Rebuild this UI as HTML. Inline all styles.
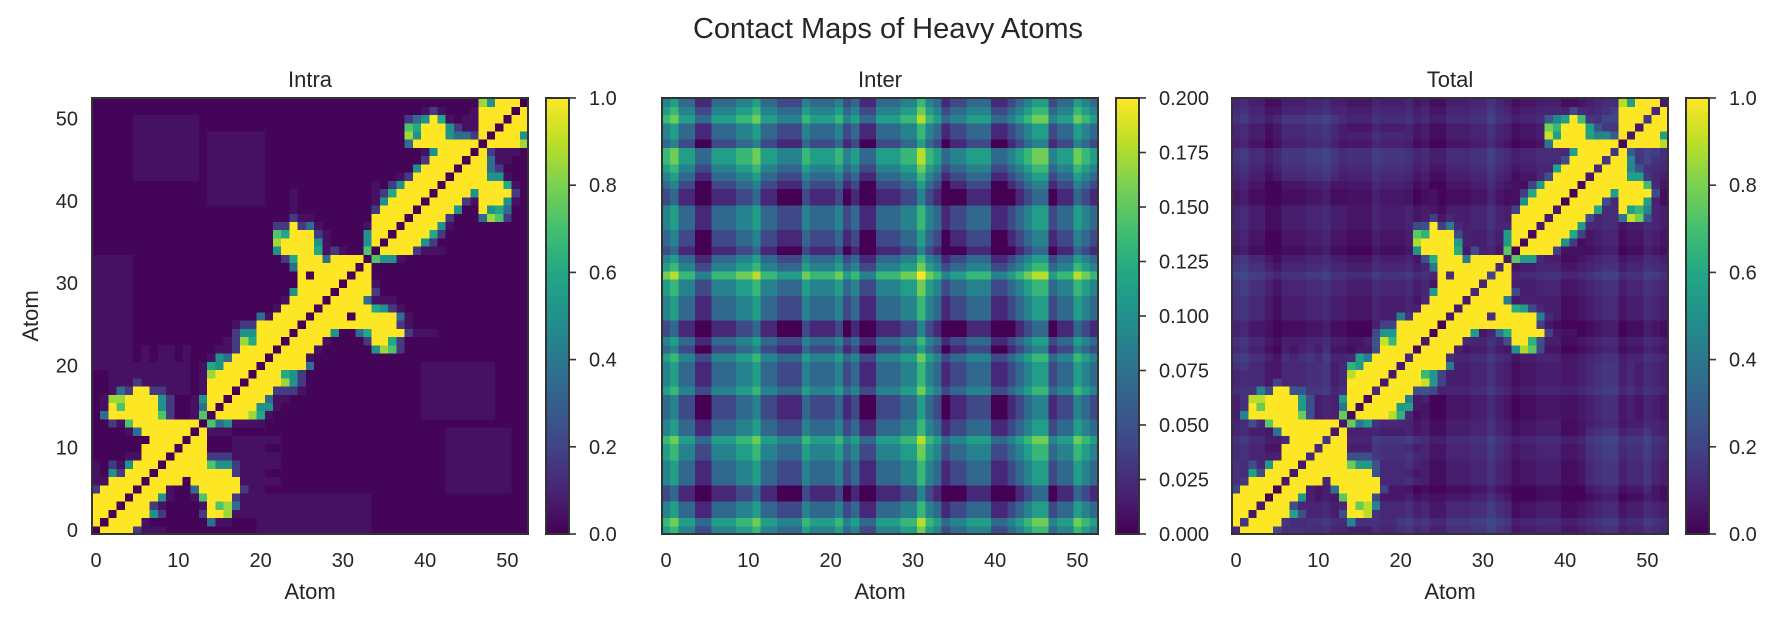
<!DOCTYPE html>
<html><head><meta charset="utf-8"><title>Contact Maps of Heavy Atoms</title>
<style>
html,body{margin:0;padding:0;background:#fff;}
svg{display:block;font-family:"Liberation Sans",Arial,sans-serif;}
</style></head>
<body>
<svg id="fig" width="1776" height="620" viewBox="0 0 1776 620" xmlns="http://www.w3.org/2000/svg">
<defs>
<linearGradient id="viridisGrad" x1="0" y1="1" x2="0" y2="0">
<stop offset="0" stop-color="#440154"/><stop offset="0.1" stop-color="#482475"/><stop offset="0.2" stop-color="#414487"/><stop offset="0.3" stop-color="#355f8d"/><stop offset="0.4" stop-color="#2a788e"/><stop offset="0.5" stop-color="#21918c"/><stop offset="0.6" stop-color="#22a884"/><stop offset="0.7" stop-color="#44bf70"/><stop offset="0.8" stop-color="#7ad151"/><stop offset="0.9" stop-color="#bddf26"/><stop offset="1" stop-color="#fde725"/>
</linearGradient>
</defs>
<text x="888" y="38" text-anchor="middle" font-size="29" fill="#262626">Contact Maps of Heavy Atoms</text>
<g id="plots"></g>
</svg>
<script>
const atomCount = 53;
const axisTicks = [0, 10, 20, 30, 40, 50];
const axisTickLabels = ["0", "10", "20", "30", "40", "50"];
const panelTitles = ["Intra", "Inter", "Total"];
const intraLevelValues = [0, 0.012, 0.045, 0.17, 0.35, 0.5, 0.6, 0.72, 0.85, 1.0];
const interLevelValues = [0, 0.022, 0.044, 0.067, 0.089, 0.111, 0.133, 0.156, 0.178, 0.2];
const cbTicksUnit = [0, 0.2, 0.4, 0.6, 0.8, 1.0];
const cbLabelsUnit = ["0.0", "0.2", "0.4", "0.6", "0.8", "1.0"];
const cbTicksInter = [0, 0.025, 0.05, 0.075, 0.1, 0.125, 0.15, 0.175, 0.2];
const cbLabelsInter = ["0.000", "0.025", "0.050", "0.075", "0.100", "0.125", "0.150", "0.175", "0.200"];

const intraRows = [
"0"+"9999"+"3"+"222"+"11111111111"+"22222222222222"+"1111111111111111111",
"90"+"9999"+"2"+"1111111"+"4"+"22"+"111"+"22222222222222"+"1111111111111111111",
"99"+"0"+"9999"+"5"+"3"+"1111"+"3"+"99"+"8"+"22222222222222222"+"1111111111111111111",
"999"+"0"+"999"+"3"+"2"+"1111"+"2"+"9"+"7"+"8"+"4"+"2222222222222222"+"1111111111111111111",
"9999"+"0"+"999"+"5"+"2"+"11"+"2"+"7"+"999"+"3"+"2222222222222222"+"1111111111111111111",
"39999"+"0"+"999"+"2"+"11"+"4"+"99999"+"3"+"22"+"1111111111111111111111"+"22222222"+"11",
"229999"+"0"+"9999"+"0"+"999999"+"22222"+"11111111111111111111"+"22222222"+"11",
"2153999"+"0"+"999999999"+"3"+"222"+"1111111111111111111111"+"22222222"+"11",
"21325999"+"0"+"99999"+"7"+"55"+"3"+"22222"+"11111111111111111111"+"22222222"+"11",
"111122999"+"0"+"9999"+"333"+"222222"+"11111111111111111111"+"22222222"+"11",
"1111119999"+"0"+"999"+"111"+"2222"+"1111111111111111111111"+"22222222"+"11",
"11111109999"+"0"+"99"+"111"+"222222"+"11111111111111111111"+"22222222"+"11",
"111124999999"+"0"+"9"+"222"+"11111111111111111111111111"+"22222222"+"11",
"1132799999999"+"0"+"7"+"4"+"5"+"2222"+"11111111111111111111111111111111",
"14999999731127"+"0"+"9999"+"8"+"6"+"2"+"111111111111111111"+"222222222"+"1111",
"129799995311249"+"0"+"9999"+"5"+"5"+"2"+"11111111111111111"+"222222222"+"1111",
"1288999953112599"+"0"+"9999"+"4"+"22"+"1111111111111111"+"222222222"+"1111",
"11243993322212999"+"0"+"9999"+"333"+"2"+"11111111111111"+"222222222"+"1111",
"112223222222129999"+"0"+"9999"+"8"+"5"+"3"+"11111111111111"+"222222222"+"1111",
"1122222222221289999"+"0"+"999"+"6"+"5"+"3"+"11111111111111"+"222222222"+"1111",
"22222222222212659999"+"0"+"99999"+"4"+"1111111111111"+"222222222"+"1111",
"222221212212112549999"+"0"+"9999"+"2"+"11111111111111111111111111",
"2222212122121112239999"+"0"+"9999"+"2"+"111111"+"5873"+"111111111111111",
"22222"+"11111111111"+"2386999"+"0"+"9999"+"2"+"1111"+"3"+"99"+"6"+"3"+"111111111111111",
"22222"+"111111111111"+"3"+"55"+"9999"+"0"+"9999"+"5"+"11"+"4"+"6"+"9999"+"3"+"222"+"11111111111",
"22222"+"111111111111"+"2"+"33"+"99999"+"0"+"99999999999"+"3"+"2"+"11111111111111",
"22222"+"111111111111111"+"4"+"2"+"9999"+"0"+"9999"+"0"+"99999"+"4"+"2"+"11111111111111",
"22222"+"11111111111111111"+"2"+"9999"+"0"+"999999"+"6532"+"111111111111111",
"22222"+"111111111111111111"+"2"+"9999"+"0"+"9999"+"4"+"222"+"1111111111111111",
"22222"+"1111111111111111111"+"5"+"9999"+"0"+"9999"+"3"+"111111111111111111",
"22222"+"11111111111111111111"+"99999"+"0"+"999"+"2"+"111111111111111111",
"22222"+"11111111111111111111"+"9"+"0"+"9999"+"0"+"99"+"1111111111111111111",
"22222"+"1111111111111111111"+"4"+"9999999"+"0"+"9"+"1111111111111111111",
"22222"+"111111111111111111"+"3"+"6"+"999"+"4"+"9999"+"0"+"7"+"5"+"5"+"2"+"111111111111111",
"1111111111111111111111"+"5"+"9999"+"6"+"2"+"3"+"2"+"11"+"7"+"0"+"9999"+"3"+"222"+"1111111111",
"1111111111111111111111"+"8"+"9999"+"5"+"2"+"1111"+"5"+"9"+"0"+"9999"+"5"+"3"+"11111111111",
"1111111111111111111111"+"7"+"6"+"999"+"3"+"2"+"1111"+"5"+"99"+"0"+"9999"+"6"+"3"+"1111111111",
"1111111111111111111111"+"3"+"3"+"9"+"3"+"4"+"2"+"11111"+"2"+"999"+"0"+"9999"+"5"+"2"+"111111111",
"111111111111111111111111"+"3"+"22"+"1111111"+"9999"+"0"+"9999"+"3"+"111"+"4"+"8"+"7"+"3"+"11",
"111111111111111111111111"+"2"+"111111111"+"3"+"9999"+"0"+"9999"+"5"+"11"+"9"+"5"+"6"+"4"+"11",
"11111111111111"+"2222222"+"111"+"2"+"111111111"+"2"+"5"+"9999"+"0"+"9999"+"3"+"2"+"999"+"5"+"2"+"1",
"11111111111111"+"2222222"+"111"+"2"+"111111111"+"2"+"3"+"6"+"9999"+"0"+"9999"+"5"+"9999"+"3"+"1",
"11111111111111"+"2222222"+"1111111111111"+"2"+"1"+"3"+"5"+"9999"+"0"+"9999999"+"6"+"2"+"1",
"11111"+"22222222"+"1"+"2222222"+"1111111111111111"+"2"+"3"+"9999"+"0"+"9999"+"5"+"5"+"2"+"11",
"11111"+"22222222"+"1"+"2222222"+"111111111111111111"+"5"+"9999"+"0"+"999"+"4"+"3"+"111",
"11111"+"22222222"+"1"+"2222222"+"1111111111111111111"+"3"+"9999"+"0"+"99"+"4"+"22"+"11",
"11111"+"22222222"+"1"+"2222222"+"1111111111111111111"+"2"+"5"+"9999"+"0"+"9"+"3"+"222"+"1",
"11111"+"22222222"+"1"+"2222222"+"11111111111111111"+"4"+"99999999"+"0"+"9999"+"8",
"11111"+"22222222"+"1"+"2222222"+"11111111111111111"+"8"+"5"+"999"+"5"+"4"+"4"+"3"+"9"+"0"+"999"+"5",
"11111"+"22222222"+"1111111111111111111111111"+"7"+"6"+"999"+"5"+"3"+"2"+"2"+"99"+"0"+"999",
"11111"+"22222222"+"1111111111111111111111111"+"3"+"4"+"5"+"9"+"6"+"2"+"1"+"2"+"2"+"999"+"0"+"99",
"1111111111111111111111111111111111111111"+"2"+"3"+"2"+"111"+"2"+"9999"+"0"+"9",
"11111111111111111111111111111111111111111111111"+"8"+"5"+"999"+"0"
];

// inter row patterns (levels 0..9 of 0.2)
const interBase  = "4533113334"+"4533222433"+"3423113334"+"4643122333"+"1123455233"+"543";
const interUp1   = "5644224445"+"5644333544"+"4534224445"+"5754233444"+"2234566344"+"654";
const interUp2   = "6755335556"+"6755444655"+"5645335556"+"6865344555"+"3345677455"+"765";
const interUp3   = "7866446667"+"7866555766"+"6756446667"+"7976455666"+"4456788566"+"876";
const interDown1 = "3422002223"+"3422111322"+"2312002223"+"3532011222"+"0012344122"+"432";
const interDown2 = "2311001112"+"2311000211"+"1201001112"+"2421000111"+"0001233011"+"321";
const interRows = [
interUp1, interUp2, interBase, interBase, interDown2, interDown2, interBase, interBase, interBase, interUp1,
interUp1, interUp2, interBase, interBase, interDown1, interDown1, interDown1, interUp1, interBase, interBase,
interBase, interUp1, interDown1, interBase, interDown2, interDown2, interBase, interBase, interBase, interUp1,
interUp1, interUp3, interUp1, interBase, interDown2, interDown1, interDown1, interBase, interBase, interBase,
interDown2, interDown2, interDown1, interBase, interUp1, interUp2, interUp2, interDown1, interBase, interBase,
interUp2, interUp1, interBase
];

const SVGNS = "http://www.w3.org/2000/svg";
const plots = document.getElementById("plots");
const PANEL_TOP = 98, PANEL_SIZE = 436, CELL = PANEL_SIZE / atomCount;
const panelLefts = [92, 662, 1232];
const TEXT = "#262626";

const VIR = [[68,1,84],[72,36,117],[65,68,135],[53,95,141],[42,120,142],[33,145,140],[34,168,132],[68,191,112],[122,209,81],[189,223,38],[253,231,37]];
function viridis(t){
  t = Math.max(0, Math.min(1, t));
  const f = t * 10, i = Math.min(9, Math.floor(f)), r = f - i;
  const a = VIR[i], b = VIR[i+1];
  return "rgb(" + [0,1,2].map(k => Math.round(a[k] + (b[k]-a[k])*r)).join(",") + ")";
}
function lvl(rows, x, y){
  const d = parseInt((rows[y] || "").charAt(x), 10);
  return isNaN(d) ? 1 : d;
}
function intraVal(x, y){ return intraLevelValues[lvl(intraRows, x, y)]; }
function interVal(x, y){ return interLevelValues[lvl(interRows, x, y)]; }
function totalVal(x, y){ return Math.min(1, intraVal(x, y) + interVal(x, y)); }
function xScale(p, v){ return panelLefts[p] + v * CELL; }
function yScale(v){ return PANEL_TOP + PANEL_SIZE - (v + 1) * CELL; }

function mk(tag, attrs, parent){
  const el = document.createElementNS(SVGNS, tag);
  for (const k in attrs) el.setAttribute(k, attrs[k]);
  (parent || plots).appendChild(el);
  return el;
}

const panelSpecs = [
  {name: "intra", fn: intraVal, vmax: 1, cbT: cbTicksUnit, cbL: cbLabelsUnit},
  {name: "inter", fn: interVal, vmax: 0.2, cbT: cbTicksInter, cbL: cbLabelsInter},
  {name: "total", fn: totalVal, vmax: 1, cbT: cbTicksUnit, cbL: cbLabelsUnit}
];

panelSpecs.forEach((spec, p) => {
  const g = mk("g", {});
  
  
  const hm = mk("g", {"shape-rendering": "crispEdges"}, g);
  
  
  for (let y = 0; y < atomCount; y++){
    for (let x = 0; x < atomCount; x++){
      const r = mk("rect", {x: xScale(p, x).toFixed(2), y: yScale(y).toFixed(2), width: (CELL + 0.6).toFixed(2), height: (CELL + 0.6).toFixed(2), fill: viridis(spec.fn(x, y) / spec.vmax)}, hm);
      
      
    }
  }
  const L = panelLefts[p];
  const frame = mk("rect", {x: L, y: PANEL_TOP, width: PANEL_SIZE, height: PANEL_SIZE, fill: "none", stroke: "#333", "stroke-width": 2}, g);
  
  

  const title = mk("text", {x: L + PANEL_SIZE/2, y: 87, "text-anchor": "middle", "font-size": 22, fill: TEXT}, g);
  title.textContent = panelTitles[p];
  
  

  axisTicks.forEach((t, i) => {
    const tx = mk("text", {x: (xScale(p, t) + CELL/2).toFixed(2), y: 567, "text-anchor": "middle", "font-size": 20, fill: TEXT}, g);
    tx.textContent = axisTickLabels[i];
    
    
    if (p === 0){
      const ty = mk("text", {x: 78, y: (yScale(t) + CELL/2 + 7).toFixed(2), "text-anchor": "end", "font-size": 20, fill: TEXT}, g);
      ty.textContent = axisTickLabels[i];
      
      
    }
  });
  const xl = mk("text", {x: L + PANEL_SIZE/2, y: 599, "text-anchor": "middle", "font-size": 22, fill: TEXT}, g);
  xl.textContent = "Atom";
  
  
  if (p === 0){
    const yl = mk("text", {x: 0, y: 0, transform: "translate(38,316) rotate(-90)", "text-anchor": "middle", "font-size": 22, fill: TEXT}, g);
    yl.textContent = "Atom";
    
    
  }

  const cbX = L + PANEL_SIZE + 18, cbW = 23;
  const cb = mk("rect", {x: cbX, y: PANEL_TOP, width: cbW, height: PANEL_SIZE, fill: "url(#viridisGrad)", stroke: "#333", "stroke-width": 2}, g);
  
  
  spec.cbT.forEach((t, i) => {
    const yy = PANEL_TOP + PANEL_SIZE - (t / spec.vmax) * PANEL_SIZE;
    const tk = mk("line", {x1: cbX + cbW, x2: cbX + cbW + 7, y1: yy, y2: yy, stroke: "#333", "stroke-width": 1.6}, g);
    
    
    const lb = mk("text", {x: cbX + cbW + 20, y: (yy + 7).toFixed(2), "text-anchor": "start", "font-size": 20, fill: TEXT}, g);
    lb.textContent = spec.cbL[i];
    
    
  });
});
</script>
</body></html>
